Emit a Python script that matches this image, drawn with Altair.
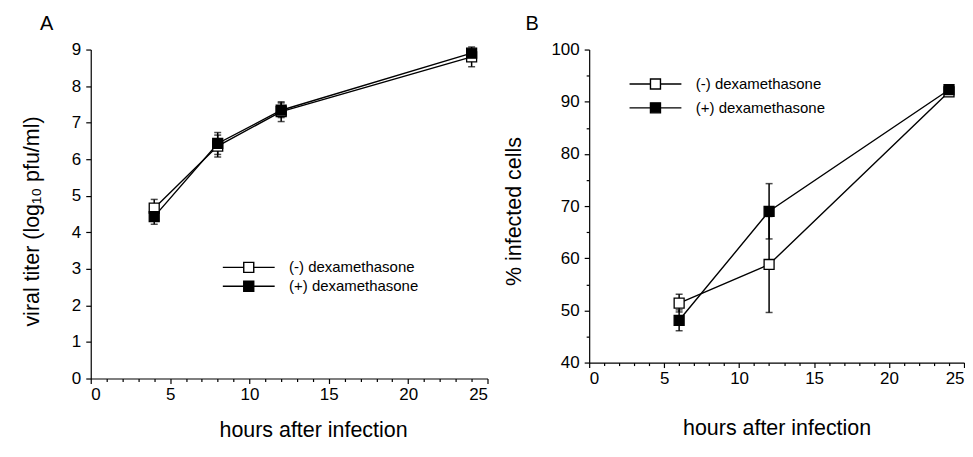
import altair as alt
import pandas as pd

FONT = "Liberation Sans"
series_names = ["(-) dexamethasone", "(+) dexamethasone"]

# Panel A: viral titer (log10 pfu/ml)
a_hours = [4, 8, 12, 24]
a_minus_mean = [4.66, 6.36, 7.30, 8.80]
a_minus_sd = [0.24, 0.30, 0.27, 0.27]
a_plus_mean = [4.43, 6.43, 7.34, 8.90]
a_plus_sd = [0.21, 0.30, 0.20, 0.10]

# Panel B: % infected cells
b_hours = [6, 12, 24]
b_minus_mean = [51.4, 58.8, 91.9]
b_minus_sd = [1.7, 9.2, 0.8]
b_plus_mean = [48.1, 69.0, 92.3]
b_plus_sd = [2.0, 5.3, 0.6]


def make_df(hours, m_mean, m_sd, p_mean, p_sd):
    rows = []
    for h, m, s in zip(hours, m_mean, m_sd):
        rows.append({"hours": h, "mean": m, "lo": m - s, "hi": m + s, "series": series_names[0]})
    for h, m, s in zip(hours, p_mean, p_sd):
        rows.append({"hours": h, "mean": m, "lo": m - s, "hi": m + s, "series": series_names[1]})
    return pd.DataFrame(rows)


# legend glyph: line with a square in the middle (path units scale by sqrt(size)/2)
legend_path = "M-3.06,0H-0.59M0.59,0H3.06M-0.59,-0.59H0.59V0.59H-0.59Z"


def panel(df, letter, title_dx, width, height, ydomain, yvalues, ylabel_step,
          ytitle, ytitle_pad, ytitle_y, xtitle_pad, xtitle_x,
          leg_x, leg_y, leg_rowpad, leg_labeloff):
    xaxis = alt.Axis(
        values=list(range(0, 26)),
        labelExpr="datum.value % 5 === 0 ? datum.label : ''",
        tickSize={"condition": {"test": "datum.value % 5 === 0", "value": 5}, "value": 3},
        labelPadding=3,
        labelOverlap=False,
        title="hours after infection",
        titlePadding=xtitle_pad,
        titleX=xtitle_x,
    )
    xscale = alt.Scale(domain=[0, 25], nice=False, zero=False)
    yaxis = alt.Axis(
        values=yvalues,
        labelExpr=f"datum.value % {ylabel_step} === 0 ? datum.label : ''",
        tickSize={"condition": {"test": f"datum.value % {ylabel_step} === 0", "value": 5}, "value": 3},
        labelPadding=5,
        labelOverlap=False,
        title=ytitle,
        titlePadding=ytitle_pad,
        titleY=ytitle_y,
    )
    yscale = alt.Scale(domain=ydomain, nice=False, zero=False)

    def X():
        return alt.X("hours:Q", scale=xscale, axis=xaxis)

    def Y(field):
        return alt.Y(f"{field}:Q", scale=yscale, axis=yaxis)

    base = alt.Chart(df)

    lines = base.mark_line(color="black", strokeWidth=1.4).encode(
        x=X(), y=Y("mean"), detail="series:N"
    )
    bars = base.mark_rule(color="black", strokeWidth=1.5).encode(
        x=X(), y=Y("lo"), y2="hi:Q", detail="series:N"
    )
    caps = base.transform_fold(["lo", "hi"], as_=["end", "val"]).mark_tick(
        orient="horizontal", color="black", size=7, thickness=1.5
    ).encode(x=X(), y=Y("val"), detail="series:N")
    points = base.mark_point(
        shape="square", filled=True, size=100, stroke="black", strokeWidth=1.3, opacity=1
    ).encode(
        x=X(),
        y=Y("mean"),
        fill=alt.Fill(
            "series:N",
            scale=alt.Scale(domain=series_names, range=["white", "black"]),
            legend=alt.Legend(
                title=None,
                orient="none",
                legendX=leg_x,
                legendY=leg_y,
                symbolType=legend_path,
                symbolSize=289,
                symbolStrokeColor="black",
                symbolStrokeWidth=1.4,
                labelFontSize=15,
                labelFont=FONT,
                labelColor="black",
                labelOffset=leg_labeloff,
                rowPadding=leg_rowpad,
                padding=0,
            ),
        ),
    )
    return alt.layer(lines, bars, caps, points).properties(
        width=width,
        height=height,
        title=alt.TitleParams(
            letter, anchor="start", frame="group", dx=title_dx, offset=7, fontSize=20,
            fontWeight="normal", font=FONT, color="black",
        ),
    )


dfA = make_df(a_hours, a_minus_mean, a_minus_sd, a_plus_mean, a_plus_sd)
dfB = make_df(b_hours, b_minus_mean, b_minus_sd, b_plus_mean, b_plus_sd)

chartA = panel(dfA, "A", -51, 398, 330, [0, 9], list(range(0, 10)), 1,
               "viral titer  (log\u2081\u2080  pfu/ml)", 28, 172, 17, 223,
               149, 209, 1, 31)
chartB = panel(dfB, "B", -64, 376, 314, [40, 100], list(range(40, 101, 5)), 10,
               "% infected cells", 26, 162, 31, 188,
               57, 25, 6, 31)

chart = (
    alt.hconcat(chartA, chartB, spacing=14)
    .resolve_scale(fill="independent")
    .resolve_legend(fill="independent")
    .properties(padding={"left": 13, "top": 5, "right": 0, "bottom": 0})
    .configure_view(stroke=None)
    .configure_axis(
        domainColor="black", tickColor="black", labelColor="black", titleColor="black",
        labelFont=FONT, titleFont=FONT, labelFontSize=17, titleFontSize=21.5,
        titleFontWeight="normal", grid=False, domainWidth=1.2, tickWidth=1.2,
        labelOverlap=False,
    )
)

chart.save("out.html", embed_options={"renderer": "svg", "actions": False})
